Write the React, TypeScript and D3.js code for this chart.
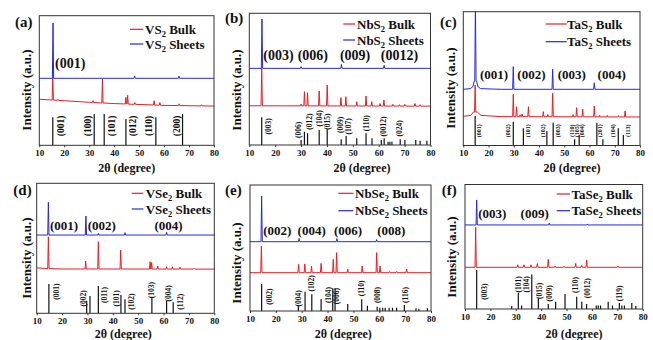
import * as d3 from "d3";
import React, { useEffect, useRef } from "react";

type Pt = [number, number];
type Peak = [number, number, number?];
type Hkl = [string, number, number];

// ---- (a) VS2 ----
const vs2SheetsBg: Pt[] = [[10, 51.7], [80, 51.7]];
const vs2Sheets: Peak[] = [[15.5, 94.4], [48.2, 53.5], [66, 53.3]];
const vs2BulkBg: Pt[] = [[10, 35.5], [20, 34.4], [30, 33.2], [40, 32.2], [60, 30.8], [80, 30.3]];
const vs2Bulk: Peak[] = [[15.4, 51.7], [17.5, 35.5], [31.5, 34.5], [35.3, 51], [44.7, 37], [45.4, 38.6], [48.3, 33], [56, 34.4], [58.3, 33], [66, 32], [75, 31.3]];
const vs2Ref: Pt[] = [[15.4, 21.6], [32, 24.2], [36, 24.2], [44.7, 20.3], [56.7, 21.6], [67.4, 24.2]];
const vs2RefLabels: Hkl[] = [["(001)", 18.7, 15], ["(100)", 29.6, 15], ["(101)", 39, 15], ["(012)", 47.6, 15], ["(110)", 54, 15], ["(200)", 65, 15]];
const vs2Planes: Hkl[] = [["(001)", 16.3, 59.4]];

// ---- (b) NbS2 ----
const nbs2SheetsBg: Pt[] = [[10, 58.2], [80, 58.2]];
const nbs2Sheets: Peak[] = [[14.9, 95.7], [30, 59.5], [45.6, 61.3], [62.1, 60.5]];
const nbs2BulkBg: Pt[] = [[10, 29.8], [80, 29.5]];
const nbs2Bulk: Peak[] = [[14.8, 58.2], [30, 31], [31.3, 40.5], [32.5, 39.7], [37, 41], [40.1, 45.6], [45.4, 35.9], [47.3, 36.7], [51.5, 32.9], [55.1, 37.2], [57.3, 32.9], [60.5, 31.5], [62, 34.2], [65.5, 30.8], [68, 30.6], [70.1, 30.8], [74, 31.5], [76, 30.6]];
const nbs2Ref: Pt[] = [[14.8, 21], [30, 3.8], [31.3, 10.1], [32.5, 8.9], [37, 11.4], [40.1, 11.9], [45.5, 4.3], [47.4, 6.8], [51.5, 5.1], [55.1, 8.9], [57.4, 5.1], [61, 3.8], [62.1, 5.1], [63.6, 2.5], [64.3, 2.5], [65.1, 2.5], [68.3, 4.3], [70.1, 3.8], [74.3, 3.8], [76, 3.3], [78.6, 3.3]];
const nbs2RefLabels: Hkl[] = [["(003)", 17.3, 14.1], ["(006)", 28.9, 11.4], ["(012)", 33.2, 17.7], ["(104)", 37, 20.3], ["(015)", 40.1, 17.7], ["(009)", 45.3, 15.2], ["(107)", 48.2, 14.1], ["(110)", 55.1, 16.5], ["(0012)", 61.8, 14.1], ["(024)", 68.2, 12.7]];
const nbs2Planes: Hkl[] = [["(003)", 15.4, 64.3], ["(006)", 28.7, 64.3], ["(009)", 45, 64.3], ["(0012)", 60.8, 64.3]];

// ---- (c) TaS2 ----
const tas2SheetsBg: Pt[] = [[10, 42], [12.8, 42.5], [13.8, 44], [14.3, 48], [15.3, 48], [15.8, 44], [16.8, 42.5], [25, 42], [80, 42]];
const tas2Sheets: Peak[] = [[14.8, 108], [29.8, 58.9], [45.4, 57], [61.9, 46.9]];
const tas2BulkBg: Pt[] = [[10, 21.8], [13, 22.5], [14, 25], [15.6, 25], [17, 22.5], [25, 21.6], [80, 21.3]];
const tas2Bulk: Peak[] = [[14.7, 45.2], [29.8, 38.3], [31.1, 29], [32.5, 23], [33.3, 23.5], [35.8, 29], [41.7, 25.3], [43.5, 23.2], [45.4, 39], [53.5, 23], [54.9, 28.3], [57.3, 27.3], [61.9, 29.5], [64, 22.5], [67, 22.5], [71.5, 22.3], [74.1, 25.8]];
const tas2Ref: Pt[] = [[14.7, 22], [29.8, 17.8], [33.8, 12.9], [43.1, 10.8], [45.6, 17], [54.1, 4.6], [55.9, 7.8], [62.9, 17], [65.3, 4.6], [71.4, 12.9], [73.4, 7.8]];
const tas2RefLabels: Hkl[] = [["(001)", 16.3, 11], ["(002)", 27.8, 11], ["(101)", 35.5, 11], ["(102)", 41.7, 11], ["(003)", 47.6, 11], ["(110)", 52.9, 11], ["(105)", 54.9, 11], ["(004)", 56.9, 11], ["(201)", 64.2, 11], ["(104)", 69.4, 11], ["(113)", 75.4, 11]];
const tas2Planes: Hkl[] = [["(001)", 16.6, 49.7], ["(002)", 31.4, 49.7], ["(003)", 47.4, 49.7], ["(004)", 63.2, 49.7]];

// ---- (d) VSe2 ----
const vse2SheetsBg: Pt[] = [[10, 60.2], [80, 60.2]];
const vse2Sheets: Peak[] = [[14.6, 85.4], [29.4, 74.8], [34.3, 61.5], [44.8, 62], [61.2, 62.3]];
const vse2BulkBg: Pt[] = [[10, 35], [13, 34.5], [20, 34.1], [80, 34]];
const vse2Bulk: Peak[] = [[14.6, 58.9], [29.3, 40.2], [34.3, 55.1], [43.1, 48.7], [54.7, 39.7], [55.3, 39], [57.7, 36.4], [61.2, 35.8], [63.5, 35.8], [66.5, 35.5], [72, 34.6]];
const vse2Ref: Pt[] = [[14.8, 22.5], [29.7, 9.7], [31, 13.3], [34.3, 21], [43.2, 14.1], [44.8, 10.8], [55.4, 12.8], [61.2, 9.5], [63.8, 8.5]];
const vse2RefLabels: Hkl[] = [["(001)", 17.9, 16.6], ["(002)", 28.4, 11.5], ["(011)", 36.9, 14.1], ["(101)", 41.5, 11.5], ["(102)", 47.4, 8.9], ["(103)", 55.3, 17.9], ["(004)", 61.9, 15.4], ["(112)", 66.5, 8.9]];
const vse2Planes: Hkl[] = [["(001)", 15.2, 64.1], ["(002)", 30.1, 64.1], ["(004)", 56.4, 64.1]];

// ---- (e) NbSe2 ----
const nbse2SheetsBg: Pt[] = [[10, 55], [80, 55]];
const nbse2Sheets: Peak[] = [[14.5, 91.3], [29, 57.5], [43.6, 57.5], [59, 56.7]];
const nbse2BulkBg: Pt[] = [[10, 30.4], [80, 30.4]];
const nbse2Bulk: Peak[] = [[14.4, 51.6], [28.8, 37], [31.2, 37.3], [33.8, 35.7], [37.5, 37.8], [42.2, 41], [43.5, 46.3], [47.8, 33.2], [53.4, 35.7], [59, 46.3], [60.3, 35.7], [64, 31.3], [66.7, 31.5], [70.6, 33.2]];
const nbse2Ref: Pt[] = [[14.5, 21.4], [28.7, 4.8], [31.3, 15.3], [33.9, 13.2], [37.5, 9.5], [42, 18], [42.9, 18], [47.8, 5.6], [53.2, 9.3], [55.4, 4.2], [59.2, 3.4], [60.2, 2.6], [61.3, 2.6], [62.3, 2.6], [63.8, 2.6], [65.1, 2.6], [66.7, 2.6], [69.7, 4.8], [74.2, 2.1], [75.3, 1.8], [78.6, 2.1]];
const nbse2RefLabels: Hkl[] = [["(002)", 17.5, 11.4], ["(004)", 28.7, 10.1], ["(102)", 33.6, 22], ["(104)", 40.3, 12.7], ["(006)", 43.5, 11.9], ["(110)", 53.2, 18], ["(008)", 59.2, 12.7], ["(116)", 70.3, 12.7]];
const nbse2Planes: Hkl[] = [["(002)", 15.1, 60.3], ["(004)", 28.4, 60.3], ["(006)", 42.5, 60.3], ["(008)", 59.2, 60.3]];

// ---- (f) TaSe2 ----
const tase2SheetsBg: Pt[] = [[10, 67.5], [80, 67.5]];
const tase2Sheets: Peak[] = [[14.6, 87.6], [43.2, 69], [58.2, 68.3]];
const tase2BulkBg: Pt[] = [[10, 33.5], [80, 33.5]];
const tase2Bulk: Peak[] = [[14.2, 65.6], [30.8, 35.5], [33.2, 35.5], [36, 35.5], [38.5, 36.5], [42.8, 39.9], [45.5, 34.5], [49, 34.3], [53.6, 36.7], [56, 35], [57.9, 39.4], [70.2, 34.5]];
const tase2Ref: Pt[] = [[14.6, 31.3], [28.4, 2.4], [31, 13.1], [32.3, 2.9], [36.3, 27.8], [38.9, 8.6], [42.8, 4], [45.7, 5.9], [49.4, 12], [54, 9.9], [56, 5.9], [57.9, 4], [61.7, 2.9], [62.5, 2.9], [63.4, 2.9], [66.4, 5.9], [68.1, 2.9], [70.8, 4.8], [71.8, 2.9], [72.8, 2.9], [75.7, 4.8], [77.3, 2.4]];
const tase2RefLabels: Hkl[] = [["(003)", 17.6, 13.9], ["(101)", 31, 19.8], ["(104)", 34.3, 19.8], ["(015)", 39.3, 14.5], ["(009)", 43.2, 12.6], ["(110)", 53.6, 19.3], ["(0012)", 58.2, 16.6], ["(119)", 70.8, 12.6]];
const tase2Planes: Hkl[] = [["(003)", 15.2, 72.9], ["(009)", 31.9, 72.9]];

const xTicks = [10, 20, 30, 40, 50, 60, 70, 80];

const panels = [
  { tag: "(a)", name: "VS", frame: [39.3, 214, 15.7, 145.3], sheetsBg: vs2SheetsBg, sheets: vs2Sheets, bulkBg: vs2BulkBg, bulk: vs2Bulk, ref: vs2Ref, refLabels: vs2RefLabels, planes: vs2Planes, refFont: 9.5, annFont: 14, legend: [130, 143.3, 29.3, 44, 145], tagPos: [15, 26.7], yLab: [26.7, 90], xLab: [126.7, 172] },
  { tag: "(b)", name: "NbS", frame: [249.3, 430.5, 13.3, 145], sheetsBg: nbs2SheetsBg, sheets: nbs2Sheets, bulkBg: nbs2BulkBg, bulk: nbs2Bulk, ref: nbs2Ref, refLabels: nbs2RefLabels, planes: nbs2Planes, refFont: 7.5, annFont: 14, legend: [343.3, 355, 24, 40, 357], tagPos: [225, 22.7], yLab: [236.7, 90], xLab: [362, 172] },
  { tag: "(c)", name: "TaS", frame: [463.3, 640, 11.7, 145.5], sheetsBg: tas2SheetsBg, sheets: tas2Sheets, bulkBg: tas2BulkBg, bulk: tas2Bulk, ref: tas2Ref, refLabels: tas2RefLabels, planes: tas2Planes, refFont: 6, annFont: 13, legend: [545.7, 566.7, 24, 41.7, 567], tagPos: [440, 26.7], yLab: [450.7, 88], xLab: [572, 172] },
  { tag: "(d)", name: "VSe", frame: [36.7, 214.3, 183.3, 313.3], sheetsBg: vse2SheetsBg, sheets: vse2Sheets, bulkBg: vse2BulkBg, bulk: vse2Bulk, ref: vse2Ref, refLabels: vse2RefLabels, planes: vse2Planes, refFont: 7.5, annFont: 13, legend: [131.7, 143.3, 193.3, 209, 145.7], tagPos: [13.3, 195], yLab: [26.7, 258], xLab: [123.3, 337.5] },
  { tag: "(e)", name: "NbSe", frame: [250, 431, 185, 311], sheetsBg: nbse2SheetsBg, sheets: nbse2Sheets, bulkBg: nbse2BulkBg, bulk: nbse2Bulk, ref: nbse2Ref, refLabels: nbse2RefLabels, planes: nbse2Planes, refFont: 7.5, annFont: 13, legend: [338.3, 353.3, 193.3, 210.7, 355], tagPos: [225, 195], yLab: [236.7, 263], xLab: [343.3, 337.5] },
  { tag: "(f)", name: "TaSe", frame: [465, 642.7, 184.5, 309], sheetsBg: tase2SheetsBg, sheets: tase2Sheets, bulkBg: tase2BulkBg, bulk: tase2Bulk, ref: tase2Ref, refLabels: tase2RefLabels, planes: tase2Planes, refFont: 7.5, annFont: 13, legend: [556.7, 570, 194, 210.7, 571.5], tagPos: [441.7, 195], yLab: [451.7, 257], xLab: [574, 337.5] },
];

const RED = "#ec1c24";
const BLUE = "#2228e6";
const FONT = "'Liberation Serif', 'Times New Roman', serif";

function interp(bg: Pt[], x: number) {
  const i = d3.bisector((d: Pt) => d[0]).right(bg, x);
  if (i <= 0) return bg[0][1];
  if (i >= bg.length) return bg[bg.length - 1][1];
  const [xa, ya] = bg[i - 1];
  const [xb, yb] = bg[i];
  return ya + ((yb - ya) * (x - xa)) / (xb - xa);
}

// baseline knots plus a narrow spike for every peak
function trace(bg: Pt[], peaks: Peak[]): Pt[] {
  const pts: Pt[] = bg.filter((b) => !peaks.some(([p, , w = 0.25]) => Math.abs(b[0] - p) < w));
  peaks.forEach(([p, top, w = 0.25]) => {
    pts.push([p - w, interp(bg, p - w)], [p, top], [p + w, interp(bg, p + w)]);
  });
  return pts.sort((a, b) => a[0] - b[0]);
}

const App: React.FC = () => {
  const ref = useRef<SVGSVGElement>(null);

  useEffect(() => {
    const svg = d3.select(ref.current).html("");
    svg.append("rect").attr("width", 653).attr("height", 340).attr("fill", "#fff");

    panels.forEach((pn, idx) => {
      const [x0, x1, y0, y1] = pn.frame;
      const x = d3.scaleLinear().domain([10, 80]).range([x0, x1]);
      const y = d3.scaleLinear().domain([0, 100]).range([y1, y0]);
      const g = svg.append("g").style("font-family", FONT).style("font-weight", "bold");

      const clipId = `clip${idx}`;
      g.append("clipPath").attr("id", clipId)
        .append("rect").attr("x", x0).attr("y", y0).attr("width", x1 - x0).attr("height", y1 - y0);
      const plot = g.append("g").attr("clip-path", `url(#${clipId})`);

      const line = d3.line<Pt>().x((d) => x(d[0])).y((d) => y(d[1]));

      // reference sticks
      plot.selectAll("line.stick").data(pn.ref).enter().append("line")
        .attr("x1", (d) => x(d[0])).attr("x2", (d) => x(d[0]))
        .attr("y1", y(0)).attr("y2", (d) => y(d[1]))
        .attr("stroke", "#111").attr("stroke-width", 1.2);

      plot.append("path").attr("d", line(trace(pn.bulkBg, pn.bulk)))
        .attr("fill", "none").attr("stroke", RED).attr("stroke-width", 1);
      plot.append("path").attr("d", line(trace(pn.sheetsBg, pn.sheets)))
        .attr("fill", "none").attr("stroke", BLUE).attr("stroke-width", 1);

      // hkl labels of reference pattern
      pn.refLabels.forEach(([t, px, py]) => {
        g.append("text").text(t)
          .attr("transform", `translate(${x(px)},${y(py)}) rotate(-90)`)
          .attr("text-anchor", "middle").attr("dominant-baseline", "central")
          .attr("font-size", pn.refFont).attr("fill", "#111");
      });

      // plane annotations
      pn.planes.forEach(([t, px, py]) => {
        g.append("text").text(t).attr("x", x(px)).attr("y", y(py))
          .attr("font-size", pn.annFont).attr("fill", "#111");
      });

      // frame
      g.append("rect").attr("x", x0).attr("y", y0).attr("width", x1 - x0).attr("height", y1 - y0)
        .attr("fill", "none").attr("stroke", "#333").attr("stroke-width", 1);

      const ax = g.append("g").attr("transform", `translate(0,${y1})`)
        .call(d3.axisBottom(x).tickValues(xTicks).tickSize(2).tickPadding(2.5).tickFormat(d3.format("d")));
      ax.select(".domain").remove();
      ax.selectAll("line").attr("stroke", "#333");
      ax.selectAll("text").attr("font-size", 9).attr("font-family", FONT).attr("font-weight", "bold").attr("fill", "#111");

      // legend
      const [lx0, lx1, ly1, ly2, tx] = pn.legend;
      [[ly1, RED, "Bulk"], [ly2, BLUE, "Sheets"]].forEach(([ly, c, word]) => {
        g.append("line").attr("x1", lx0).attr("x2", lx1).attr("y1", ly as number).attr("y2", ly as number)
          .attr("stroke", c as string).attr("stroke-width", 1.2);
        const t = g.append("text").attr("x", tx).attr("y", (ly as number) + 4.5).attr("font-size", 13).attr("fill", "#111");
        t.append("tspan").text(pn.name);
        t.append("tspan").text("2").attr("font-size", 8.5).attr("dy", 3);
        t.append("tspan").text(` ${word}`).attr("dy", -3);
      });

      g.append("text").text(pn.tag).attr("x", pn.tagPos[0]).attr("y", pn.tagPos[1])
        .attr("font-size", 15).attr("fill", "#111");

      g.append("text").text("Intensity (a.u.)")
        .attr("transform", `translate(${pn.yLab[0] + 4.5},${pn.yLab[1]}) rotate(-90)`)
        .attr("text-anchor", "middle").attr("font-size", 13).attr("fill", "#111");

      g.append("text").text("2θ (degree)").attr("x", pn.xLab[0]).attr("y", pn.xLab[1])
        .attr("text-anchor", "middle").attr("font-size", 12).attr("fill", "#111");
    });
  }, []);

  return <svg ref={ref} width={653} height={340} style={{ position: "absolute", left: 0, top: 0 }}></svg>;
};

export default App;
